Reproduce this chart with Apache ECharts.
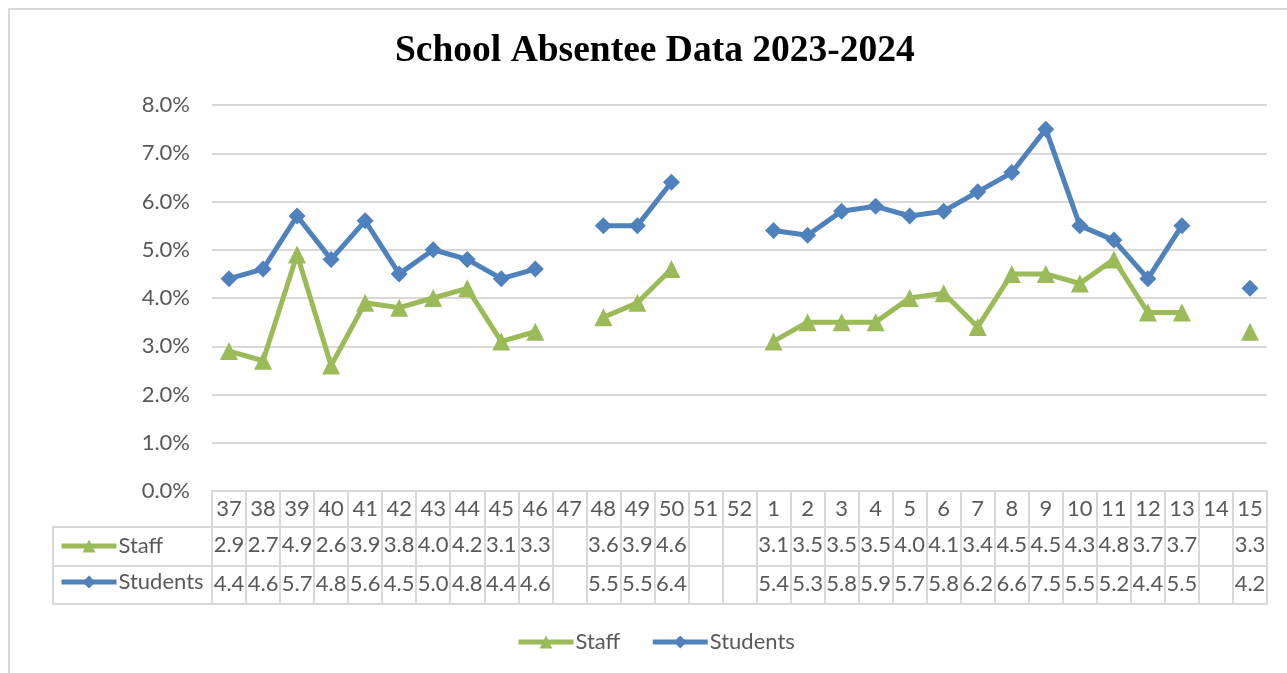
<!DOCTYPE html>
<html>
<head>
<meta charset="utf-8">
<script src="https://cdn.jsdelivr.net/npm/echarts@6/dist/echarts.min.js"></script>
<style>
html,body{margin:0;padding:0;background:#fff;}
#chart{width:1287px;height:673px;}
</style>
</head>
<body>
<div id="chart"></div>
<script>
const weeks = ['37','38','39','40','41','42','43','44','45','46','47','48','49','50','51','52','1','2','3','4','5','6','7','8','9','10','11','12','13','14','15'];
const staff = [2.9,2.7,4.9,2.6,3.9,3.8,4.0,4.2,3.1,3.3,null,3.6,3.9,4.6,null,null,3.1,3.5,3.5,3.5,4.0,4.1,3.4,4.5,4.5,4.3,4.8,3.7,3.7,null,3.3];
const students = [4.4,4.6,5.7,4.8,5.6,4.5,5.0,4.8,4.4,4.6,null,5.5,5.5,6.4,null,null,5.4,5.3,5.8,5.9,5.7,5.8,6.2,6.6,7.5,5.5,5.2,4.4,5.5,null,4.2];
const yTicks = [0,1,2,3,4,5,6,7,8];

const FONT = 'Lato, "Open Sans", sans-serif';
const TXT = '#595959';
const LINE = '#d9d9d9';
const GREEN = '#9bbb59';
const BLUE = '#4f81bd';

const fmtVal = arr => (v, i) => (arr[i] == null ? '' : arr[i].toFixed(1));

function tableAxis(offset, tickLen, formatter, showLabel) {
  return {
    type: 'category', data: weeks, position: 'bottom', offset: offset,
    boundaryGap: true,
    axisLine: { show: true, lineStyle: { color: LINE, width: 2 } },
    axisTick: { show: tickLen > 0, length: tickLen, interval: 0, lineStyle: { color: LINE, width: 2 } },
    axisLabel: { show: showLabel, interval: 0, margin: 7, color: TXT, fontFamily: FONT, fontSize: 22, formatter: formatter },
    splitLine: { show: false }
  };
}

const legendCommon = {
  data: ['Staff', 'Students'], itemWidth: 55, itemHeight: 16,
  lineStyle: { width: 5 },
  textStyle: { color: TXT, fontFamily: FONT, fontSize: 22, padding: [0, 0, 0, -3] }
};

const chart = echarts.init(document.getElementById('chart'));
chart.setOption({
  backgroundColor: '#fff',
  animation: false,
  title: {
    text: 'School Absentee Data 2023-2024',
    left: 390, top: 27,
    textStyle: { fontFamily: '"Liberation Serif", "Times New Roman", serif', fontWeight: 'bold', fontSize: 37.5, color: '#000' }
  },
  graphic: [
    { type: 'rect', shape: { x: 9, y: 9, width: 1300, height: 700 }, style: { fill: 'none', stroke: LINE, lineWidth: 2 }, silent: true, z: -1 },
    { type: 'rect', shape: { x: 53, y: 527, width: 159, height: 77 }, style: { fill: 'none', stroke: LINE, lineWidth: 2 }, silent: true },
    { type: 'line', shape: { x1: 53, y1: 566, x2: 212, y2: 566 }, style: { stroke: LINE, lineWidth: 2 }, silent: true }
  ],
  legend: [
    Object.assign({}, legendCommon, { left: 511, top: 626, itemGap: 30 }),
    Object.assign({}, legendCommon, { orient: 'vertical', left: 54, top: 530, itemGap: 14 })
  ],
  grid: { left: 212, right: 20, top: 105, bottom: 182, containLabel: false },
  xAxis: [
    tableAxis(0, 36, (v) => v, true),
    tableAxis(36, 39, fmtVal(staff), true),
    tableAxis(75, 38, fmtVal(students), true),
    tableAxis(113, 0, () => '', false)
  ],
  yAxis: {
    type: 'value', min: 0, max: 8, interval: 1,
    axisLine: { show: false }, axisTick: { show: false },
    axisLabel: { color: TXT, fontFamily: FONT, fontSize: 22, margin: 22, formatter: v => yTicks.includes(v) ? v.toFixed(1) + '%' : '' },
    splitLine: { lineStyle: { color: LINE, width: 2 } }
  },
  series: [
    {
      name: 'Staff', type: 'line', data: staff, connectNulls: false,
      symbol: 'triangle', symbolSize: 18, showSymbol: true,
      itemStyle: { color: GREEN }, lineStyle: { color: GREEN, width: 5 }
    },
    {
      name: 'Students', type: 'line', data: students, connectNulls: false,
      symbol: 'diamond', symbolSize: 17, showSymbol: true,
      itemStyle: { color: BLUE }, lineStyle: { color: BLUE, width: 5 }
    }
  ]
});
</script>
</body>
</html>
